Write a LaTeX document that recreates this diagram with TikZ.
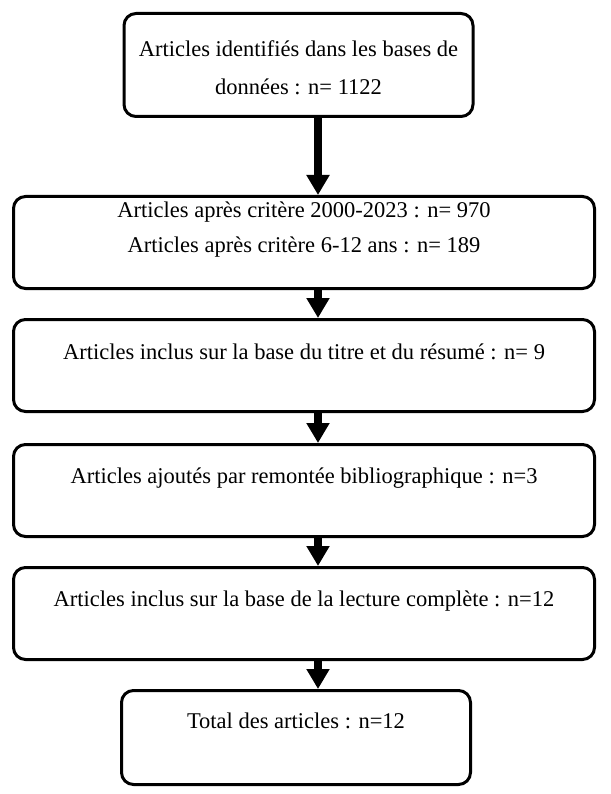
\documentclass[tikz,border=0pt]{standalone}
\usepackage{fontspec}
\setmainfont{Liberation Serif}
\usetikzlibrary{positioning,arrows.meta}

\begin{document}
\begin{tikzpicture}[
  x=1pt, y=1pt,
  node distance = 28pt,
  box/.style={rectangle, rounded corners=12pt, draw=black, line width=3pt},
  wbox/.style={box, minimum width=581pt, minimum height=92pt},
  nbox/.style={box, minimum width=349pt, minimum height=94pt},
  txt/.style={anchor=base, inner sep=0pt, font=\fontsize{22.5}{27}\selectfont},
  arw/.style={-{Triangle[length=20pt, width=22pt]}, line width=8pt}
  ]
\useasboundingbox (0,0) rectangle (610,-794);

\node [nbox, minimum height=103pt] (b1) at (298.5,-65) {};
\node [wbox, below=77pt of b1, xshift=5.5pt] (b2) {};
\node [wbox, below=28pt of b2] (b3) {};
\node [wbox, below=30pt of b3] (b4) {};
\node [wbox, below=28pt of b4] (b5) {};
\node [nbox, below=28pt of b5, xshift=-8pt] (b6) {};

\node [txt] (t1a) at ([yshift=-45pt]b1.north) {Articles identifiés dans les bases de};
\node [txt] (t1b) at ([yshift=-83pt]b1.north) {données : n= 1122};
\node [txt] (t2a) at ([yshift=-23pt]b2.north) {Articles après critère 2000-2023 : n= 970};
\node [txt] (t2b) at ([yshift=-57pt]b2.north) {Articles après critère 6-12 ans : n= 189};
\node [txt] (t3) at ([yshift=-41pt]b3.north) {Articles inclus sur la base du titre et du résumé : n= 9};
\node [txt] (t4) at ([yshift=-40pt]b4.north) {Articles ajoutés par remontée bibliographique : n=3};
\node [txt] (t5) at ([yshift=-40pt]b5.north) {Articles inclus sur la base de la lecture complète : n=12};
\node [txt] (t6) at ([yshift=-39pt]b6.north) {Total des articles : n=12};

\coordinate (ax) at (318,0);
\draw [arw] (b1.south -| ax) -- (b2.north -| ax);
\draw [arw] (b2.south -| ax) -- (b3.north -| ax);
\draw [arw] (b3.south -| ax) -- (b4.north -| ax);
\draw [arw] (b4.south -| ax) -- (b5.north -| ax);
\draw [arw] (b5.south -| ax) -- (b6.north -| ax);

\end{tikzpicture}
\end{document}
